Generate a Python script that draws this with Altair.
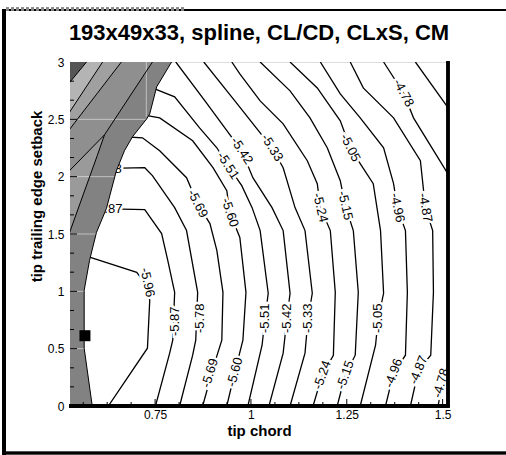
import altair as alt
import pandas as pd

FONT = "Liberation Sans"
TITLE = "193x49x33, spline, CL/CD, CLxS, CM"
X_TITLE = "tip chord"
Y_TITLE = "tip trailing edge setback"

X_DOMAIN = [0.528, 1.514]
Y_DOMAIN = [0.0, 3.0]
X_TICKS = [0.75, 1.0, 1.25, 1.5]
Y_TICKS = [0, 0.5, 1, 1.5, 2, 2.5, 3]
X_MINOR = [0.5625, 0.625, 0.6875, 0.8125, 0.875, 0.9375, 1.0625, 1.125, 1.1875,
           1.3125, 1.375, 1.4375]
Y_MINOR = [0.167, 0.333, 0.667, 0.833, 1.167, 1.333, 1.667, 1.833, 2.167, 2.333,
           2.667, 2.833]

# contour lines (x, y)
LINE_596 = [(0.573, 1.304), (0.702, 1.165), (0.728, 1.052), (0.736, 0.922), (0.730, 0.504), (0.628, 0.0)]
LINE_587 = [(0.605, 1.722), (0.723, 1.713), (0.767, 1.504), (0.783, 1.270), (0.801, 0.991), (0.796, 0.574),
            (0.788, 0.461), (0.751, 0.0)]
LINE_578 = [(0.605, 2.070), (0.723, 2.078), (0.743, 2.009), (0.801, 1.730), (0.832, 1.530), (0.861, 0.991),
            (0.856, 0.574), (0.848, 0.443), (0.814, 0.0)]
LINE_569 = [(0.670, 2.348), (0.717, 2.339), (0.762, 2.226), (0.832, 1.991), (0.861, 1.765), (0.893, 1.591),
            (0.911, 1.357), (0.927, 0.991), (0.924, 0.574), (0.906, 0.383), (0.874, 0.0)]
LINE_560 = [(0.704, 2.548), (0.762, 2.513), (0.848, 2.313), (0.901, 2.078), (0.937, 1.878), (0.945, 1.687),
            (0.971, 1.470), (0.987, 0.991), (0.979, 0.574), (0.958, 0.296), (0.937, 0.0)]
LINE_551 = [(0.736, 2.783), (0.801, 2.696), (0.866, 2.426), (0.911, 2.252), (0.940, 2.096), (0.976, 1.922),
            (1.003, 1.730), (1.024, 1.530), (1.045, 0.983), (1.037, 0.765), (1.029, 0.530), (0.992, 0.0)]
LINE_542 = [(0.804, 3.0), (0.880, 2.661), (0.976, 2.226), (1.005, 1.991), (1.055, 1.730), (1.084, 1.530),
            (1.102, 0.983), (1.094, 0.765), (1.084, 0.461), (1.047, 0.0)]
LINE_533 = [(0.877, 3.0), (0.958, 2.661), (1.055, 2.252), (1.084, 2.078), (1.115, 1.730), (1.141, 1.530),
            (1.160, 0.983), (1.149, 0.765), (1.141, 0.461), (1.102, 0.0)]
LINE_524 = [(0.950, 3.0), (0.971, 2.896), (1.024, 2.661), (1.084, 2.461), (1.147, 2.139), (1.173, 1.939),
            (1.181, 1.730), (1.207, 1.530), (1.220, 0.991), (1.215, 0.443), (1.186, 0.270), (1.162, 0.0)]
LINE_515 = [(1.024, 3.0), (1.102, 2.748), (1.154, 2.513), (1.199, 2.252), (1.233, 1.965), (1.246, 1.748),
            (1.267, 1.530), (1.280, 0.991), (1.272, 0.443), (1.246, 0.270), (1.225, 0.0)]
LINE_505 = [(1.102, 3.0), (1.173, 2.774), (1.233, 2.487), (1.259, 2.252), (1.285, 2.113), (1.319, 1.939),
            (1.338, 1.530), (1.346, 0.983), (1.332, 0.765), (1.325, 0.530), (1.285, 0.0)]
LINE_496 = [(1.181, 3.0), (1.233, 2.722), (1.285, 2.513), (1.346, 2.252), (1.372, 1.939), (1.382, 1.730),
            (1.403, 1.530), (1.408, 0.991), (1.403, 0.443), (1.372, 0.287), (1.351, 0.0)]
LINE_487 = [(1.259, 3.0), (1.293, 2.774), (1.372, 2.513), (1.442, 2.139), (1.455, 1.730), (1.474, 1.530),
            (1.476, 0.991), (1.469, 0.443), (1.437, 0.313), (1.416, 0.0)]
LINE_478_TOP = [(1.346, 3.0), (1.398, 2.730), (1.424, 2.513), (1.520, 1.991)]
LINE_478_BOTTOM = [(1.520, 0.339), (1.500, 0.209), (1.488, 0.0)]
LINE_469 = [(1.429, 3.0), (1.520, 2.574)]

# contour labels
LABEL_TEXT = ["-5.96", "-5.87", "-5.87", "-5.78", "-5.78", "-5.69", "-5.69", "-5.60", "-5.60",
              "-5.51", "-5.51", "-5.42", "-5.42", "-5.33", "-5.33", "-5.24", "-5.24",
              "-5.15", "-5.15", "-5.05", "-5.05", "-4.96", "-4.96", "-4.87", "-4.87",
              "-4.78", "-4.78"]
LABEL_X = [0.730, 0.626, 0.801, 0.624, 0.866, 0.861, 0.893, 0.945, 0.958,
           0.940, 1.037, 0.976, 1.094, 1.055, 1.149, 1.181, 1.186,
           1.246, 1.246, 1.259, 1.332, 1.382, 1.372, 1.455, 1.437,
           1.398, 1.496]
LABEL_Y = [1.078, 1.722, 0.739, 2.070, 0.765, 1.765, 0.287, 1.687, 0.296,
           2.096, 0.765, 2.226, 0.765, 2.252, 0.765, 1.730, 0.270,
           1.748, 0.270, 2.252, 0.765, 1.730, 0.287, 1.730, 0.313,
           2.730, 0.200]
LABEL_ANGLE = [78, 0, 270, 0, 270, 63, 287, 72, 285,
               57, 270, 57, 270, 58, 270, 77, 290,
               77, 290, 63, 270, 78, 290, 80, 292,
               62, 286]

# shaded region boundaries (x as a function of y)
GRAY_EDGE = [(0.586, 0.0), (0.565, 0.504), (0.565, 1.009), (0.579, 1.270), (0.597, 1.513), (0.623, 1.722),
             (0.649, 2.052), (0.670, 2.226), (0.691, 2.348), (0.728, 2.504), (0.736, 2.548),
             (0.754, 2.783), (0.793, 3.0)]
BAND_L1 = [(0.524, 2.809), (0.571, 3.0)]
BAND_L2 = [(0.524, 2.548), (0.613, 3.0)]
BAND_L3 = [(0.524, 2.400), (0.662, 3.0)]
BAND_L4 = [(0.524, 2.043), (0.618, 2.365), (0.743, 3.0)]
BAND_L5 = [(0.526, 1.504), (0.599, 2.183), (0.618, 2.365)]
WEDGE = [(0.526, 1.504), (0.599, 2.183), (0.618, 2.365), (0.743, 3.0)]

GRID_Y = [0.5, 1.0, 1.5, 2.0, 2.5]
GRID_X_END = [0.565, 0.565, 0.597, 0.645, 0.728]

MARKER_X = [0.567]
MARKER_Y = [0.613]

W, H = 378, 344

xs = alt.Scale(domain=X_DOMAIN, nice=False, zero=False)
ys = alt.Scale(domain=Y_DOMAIN, nice=False, zero=False)

x_axis = alt.Axis(values=X_TICKS, labelExpr="'' + datum.value", ticks=False, domain=False, grid=False,
                  labelFont=FONT, labelFontSize=12, labelColor="black", labelPadding=3,
                  title=X_TITLE, titleFont=FONT, titleFontSize=15, titleFontWeight="bold",
                  titleColor="black", titleX=W / 2, titleY=29, titleBaseline="alphabetic",
                  titleAlign="center")
y_axis = alt.Axis(values=Y_TICKS, labelExpr="'' + datum.value", ticks=False, domain=False, grid=False,
                  labelFont=FONT, labelFontSize=12, labelColor="black", labelPadding=6,
                  title=Y_TITLE, titleFont=FONT, titleFontSize=15, titleFontWeight="bold",
                  titleColor="black", titleX=-29, titleY=134, titleAngle=270,
                  titleBaseline="alphabetic", titleAlign="center")

XE = alt.X("x:Q", scale=xs, axis=x_axis, stack=None)
YE = alt.Y("y:Q", scale=ys, axis=y_axis)


def lines_frame(named):
    rows = []
    for name, pts in named.items():
        for i, (x, y) in enumerate(pts):
            rows.append({"id": name, "seq": i, "x": x, "y": y})
    return pd.DataFrame(rows)


contours = lines_frame({
    "596": LINE_596, "587": LINE_587, "578": LINE_578, "569": LINE_569, "560": LINE_560,
    "551": LINE_551, "542": LINE_542, "533": LINE_533, "524": LINE_524, "515": LINE_515,
    "505": LINE_505, "496": LINE_496, "487": LINE_487, "478a": LINE_478_TOP,
    "478b": LINE_478_BOTTOM, "469": LINE_469,
})
band_lines = lines_frame({"g": GRAY_EDGE, "l1": BAND_L1, "l2": BAND_L2, "l3": BAND_L3,
                          "l4": BAND_L4, "l5": BAND_L5})
labels = pd.DataFrame({"text": LABEL_TEXT, "x": LABEL_X, "y": LABEL_Y, "angle": LABEL_ANGLE})

layers = []
layers.append(alt.Chart(contours).mark_line(color="black", strokeWidth=1.3, clip=True).encode(
    x=XE, y=YE, detail="id:N", order="seq:Q"))
layers.append(alt.Chart(labels).mark_text(font=FONT, fontSize=13, color="white", stroke="white",
                                          strokeWidth=5, align="center", baseline="middle").encode(
    x=XE, y=YE, text="text:N", angle=alt.Angle("angle:Q", scale=None)))
layers.append(alt.Chart(labels).mark_text(font=FONT, fontSize=13, color="black",
                                          align="center", baseline="middle").encode(
    x=XE, y=YE, text="text:N", angle=alt.Angle("angle:Q", scale=None)))


def area(pts, color):
    df = pd.DataFrame(pts, columns=["x", "y"])
    df["x0"] = 0.5
    return alt.Chart(df).mark_area(orient="horizontal", color=color, opacity=1, clip=True).encode(
        y=YE, x=XE, x2="x0:Q")


layers.append(area(GRAY_EDGE, "#828282"))
layers.append(area(WEDGE, "#9a9a9a"))
layers.append(area(BAND_L4, "#8f8f8f"))
layers.append(area(BAND_L3, "#a0a0a0"))
layers.append(area(BAND_L2, "#b4b4b4"))
layers.append(area(BAND_L1, "#555555"))

grid = pd.DataFrame({"y": GRID_Y, "x": [X_DOMAIN[0]] * len(GRID_Y), "x2": GRID_X_END})
layers.append(alt.Chart(grid).mark_rule(color="white", strokeWidth=1, opacity=0.5, clip=True).encode(
    x=XE, x2="x2:Q", y=YE))
vgrid = pd.DataFrame({"x": [0.727], "y": [2.52], "y2": [3.0]})
layers.append(alt.Chart(vgrid).mark_rule(color="white", strokeWidth=1, opacity=0.5, clip=True).encode(
    x=XE, y=YE, y2="y2:Q"))

layers.append(alt.Chart(band_lines).mark_line(color="black", strokeWidth=1, clip=True).encode(
    x=XE, y=YE, detail="id:N", order="seq:Q"))

marker = pd.DataFrame({"x": MARKER_X, "y": MARKER_Y})
layers.append(alt.Chart(marker).mark_square(size=121, color="black", filled=True, opacity=1).encode(
    x=XE, y=YE))

# inward ticks
xmaj = pd.DataFrame({"x": X_TICKS})
xmin_ = pd.DataFrame({"x": X_MINOR})
ymaj = pd.DataFrame({"y": Y_TICKS[1:-1]})
ymin_ = pd.DataFrame({"y": Y_MINOR})
layers.append(alt.Chart(xmaj).mark_rule(color="black", strokeWidth=1).encode(
    x=XE, y=alt.value(H), y2=alt.value(H - 7)))
layers.append(alt.Chart(xmin_).mark_rule(color="black", strokeWidth=1).encode(
    x=XE, y=alt.value(H), y2=alt.value(H - 4)))
layers.append(alt.Chart(ymaj).mark_rule(color="black", strokeWidth=1).encode(
    y=YE, x=alt.value(0), x2=alt.value(7)))
layers.append(alt.Chart(ymin_).mark_rule(color="black", strokeWidth=1).encode(
    y=YE, x=alt.value(0), x2=alt.value(4)))

# heavier frame edges
layers.append(alt.Chart(xmaj).mark_rule(color="black", strokeWidth=3.5).encode(
    x=alt.value(-1), x2=alt.value(W + 1.5), y=alt.value(H)))
layers.append(alt.Chart(xmaj).mark_rule(color="black", strokeWidth=3).encode(
    x=alt.value(W), y=alt.value(-1), y2=alt.value(H + 1)))

# title as text
title_df = pd.DataFrame({"t": [TITLE]})
layers.append(alt.Chart(title_df).mark_text(font=FONT, fontSize=22, fontWeight="bold", color="black",
                                            align="center", baseline="alphabetic").encode(
    text="t:N", x=alt.value(W / 2), y=alt.value(-22)))

# outer window frame
layers.append(alt.Chart(xmaj).mark_rule(color="black", strokeWidth=4).encode(
    x=alt.value(-66), y=alt.value(-52), y2=alt.value(393)))
layers.append(alt.Chart(xmaj).mark_rule(color="black", strokeWidth=2).encode(
    x=alt.value(-68), x2=alt.value(436), y=alt.value(-52)))
layers.append(alt.Chart(xmaj).mark_rule(color="#888888", strokeWidth=3, strokeDash=[3, 2]).encode(
    x=alt.value(-64), x2=alt.value(115), y=alt.value(-53)))
layers.append(alt.Chart(xmaj).mark_rule(color="black", strokeWidth=2.5).encode(
    x=alt.value(-68), x2=alt.value(436), y=alt.value(391)))

chart = alt.layer(*layers).properties(
    width=W, height=H,
    autosize=alt.AutoSizeParams(type="none"),
    padding={"left": 70, "top": 62, "right": 58, "bottom": 49},
).configure_view(stroke="black", strokeWidth=2).configure(background="white")

chart.save("out.html", embed_options={"renderer": "svg", "actions": False})
